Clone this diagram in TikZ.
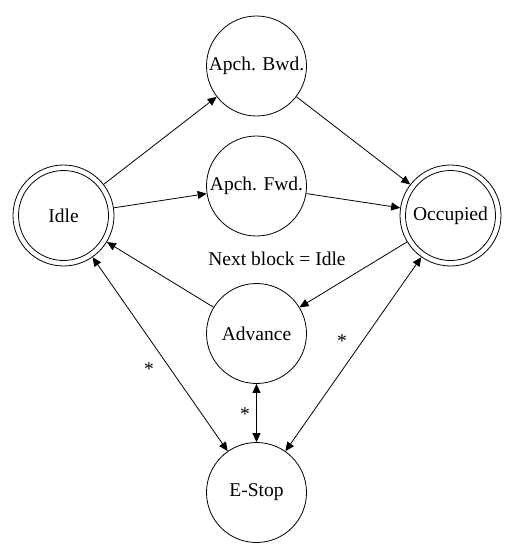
\documentclass[tikz,border=0pt]{standalone}
\usepackage{fontspec}
\setmainfont{Liberation Serif}
\usetikzlibrary{arrows.meta}
\begin{document}
\begin{tikzpicture}[x=1pt,y=-1pt,
  every node/.style={font=\fontsize{19.5}{23}\selectfont},
  state/.style={draw, circle, minimum size=100pt, inner sep=0pt, line width=0.8pt},
  acc/.style={draw, circle, minimum size=101pt, inner sep=0pt, line width=0.8pt},
  conn/.style={line width=0.8pt, -{Triangle[length=9pt,width=8pt]}},
  bconn/.style={line width=0.8pt, {Triangle[length=9pt,width=8pt]}-{Triangle[length=9pt,width=8pt]}},
  lbl/.style={inner sep=0pt}]
\useasboundingbox (0,0) rectangle (519,556);
\node[state] (bwd) at (256.5,66) {Apch. Bwd.};
\node[state] (fwd) at (256.5,186) {Apch. Fwd.};
\node[acc] (idle) at (63.5,215.5) {Idle};
\node[acc] (occ) at (450.5,215.5) {Occupied};
\node[state] (adv) at (256.5,333.5) {Advance};
\node[state] (estop) at (256.5,492.5) {E-Stop};
\draw[line width=0.8pt] (idle.center) circle[radius=45pt];
\draw[line width=0.8pt] (occ.center) circle[radius=45pt];
\node[lbl] (nb) at (277,259) {Next block = Idle};
\draw[conn] (idle) -- (bwd);
\draw[conn] (idle) -- (fwd);
\draw[conn] (bwd) -- (occ);
\draw[conn] (fwd) -- (occ);
\draw[conn] (occ) -- (adv);
\draw[conn] (adv) -- (idle);
\draw[bconn] (idle) -- (estop);
\draw[bconn] (occ) -- (estop);
\draw[bconn] (adv) -- (estop);
\node[lbl] (s1) at (149,369) {*};
\node[lbl] (s2) at (342,341) {*};
\node[lbl] (s3) at (245,414) {*};
\end{tikzpicture}
\end{document}
